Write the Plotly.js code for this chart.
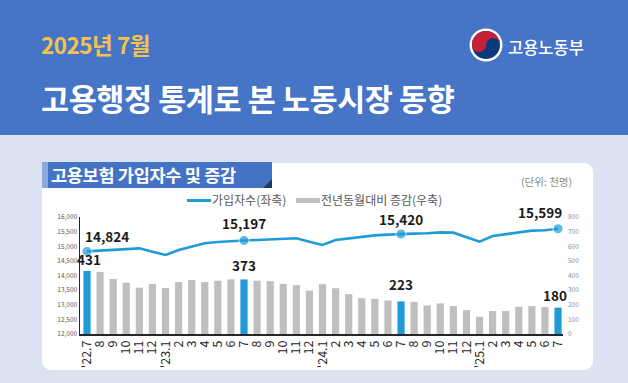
<!DOCTYPE html>
<html>
<head>
<meta charset="utf-8">
<script src="https://cdn.plot.ly/plotly-3.0.1.min.js"></script>
<style>
  html, body { margin:0; padding:0; }
  body { width:628px; height:383px; overflow:hidden; font-family:"Noto Sans CJK KR","Noto Sans",sans-serif; }
  #wrap { position:relative; width:628px; height:383px; background:#dbe3f3; overflow:hidden; }
  #header { position:absolute; left:0; top:0; width:628px; height:135px; background:#4674c6; }
  .abs { position:absolute; white-space:nowrap; }
  #card { position:absolute; left:42px; top:163px; width:551px; height:207px; background:#ffffff; border-radius:9px; }
  #chart { position:absolute; left:0; top:0; width:628px; height:383px; }
</style>
</head>
<body>
<div id="wrap">
  <div id="header"></div>
  <div class="abs" style="left:41px; top:28px; font-size:22.5px; font-weight:700; color:#f4c34b; letter-spacing:-0.5px;">2025년 7월</div>
  <div class="abs" style="left:41px; top:76px; font-size:30.5px; font-weight:700; color:#ffffff; letter-spacing:-0.4px;">고용행정 통계로 본 노동시장 동향</div>
  <svg class="abs" style="left:469px; top:28px;" width="34" height="34" viewBox="-17 -17 34 34">
    <circle cx="0" cy="0" r="16.5" fill="#ffffff"/>
    <circle cx="0" cy="0" r="14" fill="#0b3a7a"/>
    <path d="M -14 0 A 14 14 0 0 1 14 0 A 7 7 0 0 0 0 0 A 7 7 0 0 1 -14 0 Z" fill="#c8203a"/>
  </svg>
  <div class="abs" style="left:508px; top:35px; font-size:16.5px; font-weight:500; color:#ffffff;">고용노동부</div>

  <div id="card"></div>
  <div class="abs" style="left:42px; top:162px; width:6px; height:26px; background:#8eaadb;"></div>
  <div class="abs" style="left:48px; top:162px; width:224px; height:26px; background:#4472c4;"></div>
  <div class="abs" style="left:263px; top:179px; width:0; height:0; border-left:9px solid transparent; border-bottom:9px solid #1f3864;"></div>
  <div class="abs" style="left:51px; top:162px; font-size:17.5px; font-weight:700; color:#ffffff; letter-spacing:-0.3px;">고용보험 가입자수 및 증감</div>
  <div class="abs" style="left:521px; top:174px; font-size:10.5px; color:#8c8c8c;">(단위: 천명)</div>

  <div class="abs" style="left:187px; top:199px; width:24px; height:3px; background:#1f9bd8;"></div>
  <div class="abs" style="left:212px; top:191px; font-size:12px; color:#595959;">가입자수(좌축)</div>
  <div class="abs" style="left:296px; top:198px; width:24px; height:5px; background:#bfbfbf;"></div>
  <div class="abs" style="left:321px; top:191px; font-size:12px; color:#595959;">전년동월대비 증감(우축)</div>

  <div id="chart"></div>
</div>
<script>
// ---- data (thousand persons) ----
const months = ["'22.7","8","9","10","11","12","'23.1","2","3","4","5","6","7","8","9","10","11","12",
                "'24.1","2","3","4","5","6","7","8","9","10","11","12","'25.1","2","3","4","5","6","7"];
const subscribers = [14824,14849,14883,14917,14929,14815,14701,14872,14986,15100,15145,15179,
                     15197,15213,15237,15250,15271,15157,15043,15214,15271,15339,15373,15396,
                     15420,15430,15442,15476,15465,15305,15157,15350,15407,15487,15533,15545,15599];
const yoyChange = [431,424,376,351,317,342,314,355,369,355,365,374,
                   373,364,362,343,334,297,341,313,272,245,240,229,
                   223,220,195,209,191,163,118,157,157,186,191,184,180];
const highlighted = [0,12,24,36];

const BLUE = '#1f9bd8', GREY = '#bfbfbf';
const idx = months.map((_, i) => i);
const isHi = i => highlighted.includes(i);

const bars = {
  type:'bar', x:idx, y:yoyChange, yaxis:'y2',
  marker:{color: idx.map(i => isHi(i) ? BLUE : GREY)},
  width:0.55, hoverinfo:'skip', showlegend:false
};
const line = {
  type:'scatter', mode:'lines+markers', x:idx, y:subscribers, yaxis:'y',
  line:{color:BLUE, width:2.6},
  marker:{color:BLUE, size: idx.map(i => isHi(i) ? 10 : 0)},
  hoverinfo:'skip', showlegend:false
};

const lblFont = {family:'"Noto Sans CJK KR","Noto Sans",sans-serif', size:13.5, color:'#1a1a1a', weight:700};
const lineLabelCfg = {0:{xanchor:'left', xshift:-4, yshift:3}, 12:{xanchor:'center', xshift:0, yshift:5},
                      24:{xanchor:'center', xshift:0, yshift:3}, 36:{xanchor:'right', xshift:6, yshift:5}};
const barLabelCfg = {0:{xshift:2, yshift:0}, 12:{xshift:0, yshift:2}, 24:{xshift:0, yshift:5}, 36:{xshift:-3, yshift:1}};
const annotations = [];
highlighted.forEach(i => {
  const c = lineLabelCfg[i];
  annotations.push({x:i, y:subscribers[i], xref:'x', yref:'y', text:subscribers[i].toLocaleString('en-US'),
    showarrow:false, xanchor:c.xanchor, yanchor:'bottom', xshift:c.xshift, yshift:c.yshift, font:lblFont});
  const b = barLabelCfg[i];
  annotations.push({x:i, y:yoyChange[i], xref:'x', yref:'y2', text:String(yoyChange[i]),
    showarrow:false, xanchor:'center', yanchor:'bottom', xshift:b.xshift, yshift:b.yshift, font:lblFont});
});

const layout = {
  width:628, height:383,
  margin:{l:80, r:65, t:217, b:49, pad:0},
  paper_bgcolor:'rgba(0,0,0,0)', plot_bgcolor:'rgba(0,0,0,0)',
  font:{family:'"Noto Sans CJK KR","Noto Sans",sans-serif'},
  xaxis:{range:[-0.535, 36.38], tickmode:'array', tickvals:idx, ticktext:months, tickangle:-90,
         tickfont:{size:12.5, color:'#262626'}, showline:true, linecolor:'#262626', linewidth:1.5,
         showgrid:false, zeroline:false, ticks:''},
  yaxis:{range:[12000,16000], dtick:500, tickformat:',', tickfont:{size:6.5, color:'#595959'},
         showline:true, linecolor:'#262626', linewidth:1.5, showgrid:false, zeroline:false, ticks:''},
  yaxis2:{range:[0,800], dtick:100, overlaying:'y', side:'right', tickfont:{size:6.5, color:'#8c8c8c'},
          showline:false, showgrid:false, zeroline:false, ticks:'', ticklabelstandoff:4},
  annotations:annotations,
  showlegend:false
};
Plotly.newPlot('chart', [bars, line], layout, {displayModeBar:false, staticPlot:true});
</script>
</body>
</html>
